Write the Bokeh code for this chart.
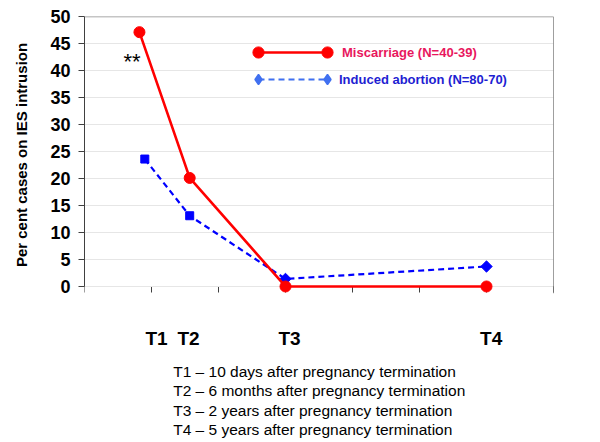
import math
from bokeh.plotting import figure
from bokeh.layouts import column
from bokeh.models import (Range1d, FixedTicker, Legend, LegendItem, Label,
                          Span, ColumnDataSource)
from bokeh.core.properties import value
from bokeh.embed import file_html
from bokeh.resources import INLINE

# ---- data ----
misc_x = [0.82, 1.57, 3.0, 6.0]
misc_y = [47.1, 20.1, 0.0, 0.0]
ind_x = [0.9, 1.57, 3.0, 6.0]
ind_y = [23.6, 13.1, 1.4, 3.7]

time_labels = ["T1", "T2", "T3", "T4"]
time_label_pos = [1.075, 1.552, 3.06, 6.07]
footnotes = [
    "T1 \u2013 10 days after pregnancy termination",
    "T2 \u2013 6 months after pregnancy termination",
    "T3 \u2013 2 years after pregnancy termination",
    "T4 \u2013 5 years after pregnancy termination",
]
y_ticks = list(range(0, 51, 5))
x_ticks = list(range(0, 8))

# marker styles of the induced-abortion points (squares, last two turned into diamonds)
ind_angles = [0, 0, math.pi / 4, math.pi / 4]
ind_sizes = [8, 8, 8, 8]

FONT = "Liberation Sans"
NAN = float("nan")

p = figure(width=598, height=310, x_range=Range1d(0, 7), y_range=Range1d(-1.3, 50),
           output_backend="svg", toolbar_location=None, title=None,
           min_border_left=84, min_border_right=45, min_border_top=16,
           min_border_bottom=17)
p.outline_line_color = None

# axes
p.yaxis.ticker = FixedTicker(ticks=y_ticks)
p.yaxis.bounds = (0, 50)
p.yaxis.axis_line_color = "#404040"
p.yaxis.major_tick_line_color = "#404040"
p.yaxis.major_tick_out = 6
p.yaxis.major_tick_in = 0
p.yaxis.minor_tick_line_color = None
p.yaxis.major_label_standoff = 8
p.yaxis.major_label_text_font = FONT
p.yaxis.major_label_text_font_style = "bold"
p.yaxis.major_label_text_font_size = "18px"
p.yaxis.major_label_text_color = "black"
p.yaxis.axis_label = "Per cent cases on IES intrusion"
p.yaxis.axis_label_text_font = FONT
p.yaxis.axis_label_text_font_style = "bold"
p.yaxis.axis_label_text_font_size = "15px"
p.yaxis.axis_label_text_color = "black"
p.yaxis.axis_label_standoff = 17

p.xaxis.ticker = FixedTicker(ticks=x_ticks)
p.xaxis.fixed_location = 0
p.xaxis.level = "underlay"
p.xaxis.axis_line_color = "#404040"
p.xaxis.major_tick_line_color = "#404040"
p.xaxis.major_tick_out = 6
p.xaxis.major_tick_in = 0
p.xaxis.minor_tick_line_color = None
p.xaxis.major_label_overrides = {t: "" for t in x_ticks}
p.xaxis.major_label_text_font_size = "1px"

p.xgrid.visible = False
p.ygrid.grid_line_color = "#E6E6E6"
p.ygrid.grid_line_width = 1

p.add_layout(Span(location=50, dimension="width", line_color="#8C8C8C", line_width=1.5))
p.add_layout(Span(location=7, dimension="height", line_color="#404040", line_width=1))

# series
misc_src = ColumnDataSource(dict(x=misc_x, y=misc_y))
ind_src = ColumnDataSource(dict(x=ind_x, y=ind_y, a=ind_angles, s=ind_sizes))

p.line("x", "y", source=ind_src, line_color="#0000FF", line_width=2.2, line_dash="6 4")
p.scatter("x", "y", source=ind_src, marker="square", size="s", angle="a",
          fill_color="#0000FF", line_color="#0000FF")
p.line("x", "y", source=misc_src, line_color="#FF0000", line_width=2.6)
p.scatter("x", "y", source=misc_src, marker="circle", size=11, fill_color="#FF0000",
          line_color="#FF0000")

# legend keys (legend-only renderers, nothing drawn in the plot)
key1 = ColumnDataSource(dict(x=[NAN], y=[NAN]))
key2 = ColumnDataSource(dict(x=[NAN], y=[NAN]))
lk1a = p.line("x", "y", source=key1, line_color="#FF0000", line_width=2.6)
lk1b = p.scatter("x", "y", source=key1, marker="circle", size=11,
                 fill_color="#FF0000", line_color="#FF0000")
lk2a = p.line("x", "y", source=key2, line_color="#4070F0", line_width=2, line_dash="6 4")
lk2b = p.scatter("x", "y", source=key2, marker="diamond", size=10,
                 fill_color="#4070F0", line_color="#4070F0", line_width=1.5)


def make_legend(label, renderers, color, loc, standoff, gw, gh=28, size="13px"):
    return Legend(items=[LegendItem(label=label, renderers=renderers)], location=loc,
                  glyph_width=gw, glyph_height=gh, label_height=gh,
                  label_standoff=standoff, padding=0, margin=0, spacing=0,
                  border_line_color=None, background_fill_alpha=0,
                  label_text_font=FONT, label_text_font_style="bold",
                  label_text_font_size=size, label_text_color=color)


KEY_X, KEY_W = 174, 69
for lab, line_r, mark_r, col, yb, so, mh in [
        ("Miscarriage (N=40-39)", lk1a, lk1b, "#E8175D", 227, 15, 28),
        ("Induced abortion (N=80-70)", lk2a, lk2b, "#1E1ED2", 200, 12, 26)]:
    p.add_layout(make_legend(lab, [line_r], col, (KEY_X, yb), so, KEY_W))
    for mx in (KEY_X, KEY_X + KEY_W):
        p.add_layout(make_legend(" ", [mark_r], col,
                                 (mx - mh // 2, yb + 14 - mh // 2), 0, mh, mh, "1px"))

# significance marker
p.add_layout(Label(x=0.71, y=41.6, text="**", text_align="center",
                   text_baseline="middle", text_font=FONT, text_font_size="22px",
                   text_color="black"))

# ---- lower panel: time point labels and footnotes, sharing the x scale ----
p2 = figure(width=598, height=130, x_range=p.x_range, y_range=Range1d(0, 130),
            output_backend="svg", toolbar_location=None, title=None,
            x_axis_location=None, y_axis_location=None,
            min_border_left=84, min_border_right=45, min_border_top=0,
            min_border_bottom=0)
p2.outline_line_color = None
p2.grid.grid_line_color = None

p2.text(x=time_label_pos, y=[102.3] * len(time_labels), text=time_labels,
        text_align="center", text_baseline="middle", text_font=value(FONT),
        text_font_style="bold", text_font_size="19px", text_color="black")

p2.text(x=[1.324] * len(footnotes), y=[68.8, 49.6, 30.2, 11.0], text=footnotes,
        text_align="left", text_baseline="middle", text_font=value(FONT),
        text_font_size="15.5px", text_color="black")

layout = column(p, p2)
open("out.html", "w").write(file_html(layout, INLINE))
